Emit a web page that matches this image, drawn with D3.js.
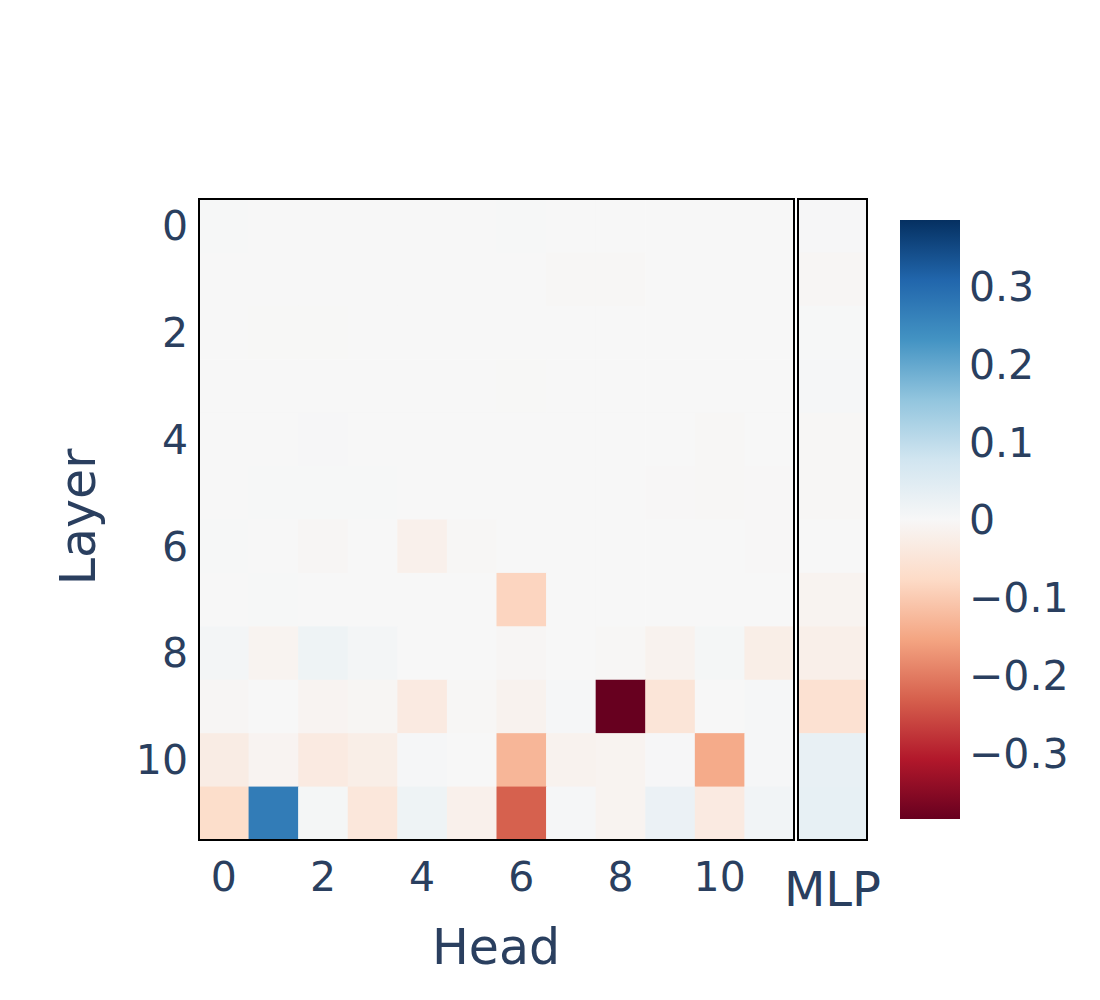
<!DOCTYPE html>
<html>
<head>
<meta charset="utf-8">
<script src="https://cdn.jsdelivr.net/npm/d3@7"></script>
<style>
  html, body { margin: 0; padding: 0; background: #fff; }
  svg text { font-family: "DejaVu Sans", Verdana, sans-serif; fill: #2a3f5f; }
</style>
</head>
<body>
<svg id="chart" width="1100" height="1000"></svg>
<script>
// ---- data ----
const layers = d3.range(12);
const heads = d3.range(12);
const headTicks = [0, 2, 4, 6, 8, 10];
const layerTicks = [0, 2, 4, 6, 8, 10];
const colorTicks = [0.3, 0.2, 0.1, 0, -0.1, -0.2, -0.3];
const zMin = -0.385, zMax = 0.385;

// attention head values: rows = layers 0..11, cols = heads 0..11
const headValues = [
  [0.002, 0.001, 0.000, 0.000, 0.000, 0.000, 0.002, 0.001, 0.000, 0.001, 0.000, 0.000],
  [0.000, 0.000, 0.000, 0.000, 0.000, 0.000, 0.000, -0.004, -0.004, 0.000, 0.000, 0.000],
  [0.000, -0.001, -0.001, 0.000, 0.000, 0.000, 0.000, 0.000, 0.000, 0.000, 0.000, 0.000],
  [0.000, 0.000, 0.000, 0.000, 0.000, 0.000, -0.001, 0.000, 0.000, 0.000, 0.000, 0.000],
  [0.000, 0.000, 0.003, 0.000, 0.000, 0.000, 0.001, 0.000, 0.000, 0.000, -0.003, 0.000],
  [0.001, 0.002, 0.002, 0.002, 0.000, 0.000, 0.001, 0.000, 0.000, -0.002, -0.003, -0.002],
  [0.002, 0.001, -0.005, 0.000, -0.020, -0.003, 0.000, 0.000, 0.000, 0.000, 0.000, -0.002],
  [0.001, 0.002, 0.000, 0.000, 0.000, 0.000, -0.085, 0.000, 0.000, 0.000, 0.000, 0.000],
  [0.008, -0.012, 0.018, 0.008, 0.001, 0.001, -0.005, 0.000, -0.004, -0.015, 0.006, -0.025],
  [-0.005, 0.001, -0.010, -0.006, -0.035, -0.003, -0.015, 0.005, -0.385, -0.050, 0.000, 0.004],
  [-0.030, -0.010, -0.035, -0.025, 0.004, 0.001, -0.130, -0.015, -0.012, 0.003, -0.145, 0.004],
  [-0.070, 0.270, 0.006, -0.045, 0.018, -0.020, -0.230, 0.005, -0.012, 0.025, -0.035, 0.012]
];
// MLP values per layer
const mlpValues = [0.003, -0.005, 0.002, 0.005, -0.004, -0.004, 0.001, -0.012, -0.022, -0.060, 0.030, 0.032];

// ---- layout ----
const svg = d3.select("#chart");
const main = { x0: 199, x1: 794, y0: 199, y1: 840 };
const mlp = { x0: 798, x1: 867 };
const cbar = { x0: 900, x1: 960, y0: 220, y1: 819 };

const rdbu = ["#67001f","#b2182b","#d6604d","#f4a582","#fddbc7","#f7f7f7","#d1e5f0","#92c5de","#4393c3","#2166ac","#053061"];
const color = d3.scaleLinear()
  .domain(d3.range(11).map(i => zMin + i * (zMax - zMin) / 10))
  .range(rdbu)
  .interpolate(d3.interpolateRgb)
  .clamp(true);

const x = d3.scaleBand().domain(heads).range([main.x0, main.x1]).padding(0);
const y = d3.scaleBand().domain(layers).range([main.y0, main.y1]).padding(0);

// cells
const cells = [];
headValues.forEach((row, li) => row.forEach((v, hi) => cells.push({ l: li, h: hi, v })));
svg.append("g").selectAll("rect").data(cells).join("rect")
  .attr("x", d => x(d.h)).attr("y", d => y(d.l))
  .attr("width", x.bandwidth() + 0.5).attr("height", y.bandwidth() + 0.5)
  .attr("fill", d => color(d.v));

svg.append("g").selectAll("rect").data(mlpValues).join("rect")
  .attr("x", mlp.x0).attr("y", (d, i) => y(i))
  .attr("width", mlp.x1 - mlp.x0).attr("height", y.bandwidth() + 0.5)
  .attr("fill", d => color(d));

// borders
svg.append("rect").attr("x", main.x0).attr("y", main.y0)
  .attr("width", main.x1 - main.x0).attr("height", main.y1 - main.y0)
  .attr("fill", "none").attr("stroke", "#000").attr("stroke-width", 2);
svg.append("rect").attr("x", mlp.x0).attr("y", main.y0)
  .attr("width", mlp.x1 - mlp.x0).attr("height", main.y1 - main.y0)
  .attr("fill", "none").attr("stroke", "#000").attr("stroke-width", 2);

// x axis ticks
const xAxis = d3.axisBottom(x).tickValues(headTicks).tickSize(0).tickPadding(0);
const gx = svg.append("g").attr("transform", `translate(0, 877)`).call(xAxis);
gx.select(".domain").remove();
gx.selectAll("text").attr("font-size", 41).attr("dy", "0.35em").attr("y", 0)
  .style("font-family", "DejaVu Sans").attr("fill", "#2a3f5f");

// y axis ticks
const yAxis = d3.axisLeft(y).tickValues(layerTicks).tickSize(0).tickPadding(0);
const gy = svg.append("g").attr("transform", `translate(188, 0)`).call(yAxis);
gy.select(".domain").remove();
gy.selectAll("text").attr("font-size", 41).attr("dy", "0.35em").attr("x", 0)
  .style("font-family", "DejaVu Sans").attr("fill", "#2a3f5f");

// MLP label
svg.append("text").attr("x", (mlp.x0 + mlp.x1) / 2).attr("y", 889)
  .attr("text-anchor", "middle").attr("dy", "0.35em").attr("font-size", 48).text("MLP");

// axis titles
svg.append("text").attr("x", 496).attr("y", 947).attr("text-anchor", "middle")
  .attr("dy", "0.35em").attr("font-size", 49).text("Head");
svg.append("text").attr("transform", "translate(78,517) rotate(-90)")
  .attr("text-anchor", "middle").attr("dy", "0.35em").attr("font-size", 49).text("Layer");

// colorbar
const defs = svg.append("defs");
const grad = defs.append("linearGradient").attr("id", "cbgrad")
  .attr("x1", 0).attr("y1", 1).attr("x2", 0).attr("y2", 0);
rdbu.forEach((c, i) => grad.append("stop").attr("offset", i / 10).attr("stop-color", c));
svg.append("rect").attr("x", cbar.x0).attr("y", cbar.y0)
  .attr("width", cbar.x1 - cbar.x0).attr("height", cbar.y1 - cbar.y0)
  .attr("fill", "url(#cbgrad)");

const cy = d3.scaleLinear().domain([zMin, zMax]).range([cbar.y1, cbar.y0]);
const cAxis = d3.axisRight(cy).tickValues(colorTicks).tickSize(0).tickPadding(0)
  .tickFormat(d => d === 0 ? "0" : (d < 0 ? "\u2212" + d3.format(".1f")(-d) : d3.format(".1f")(d)));
const gc = svg.append("g").attr("transform", `translate(969, 0)`).call(cAxis);
gc.select(".domain").remove();
gc.selectAll("text").attr("font-size", 41).attr("dy", "0.35em").attr("x", 0)
  .style("font-family", "DejaVu Sans").attr("fill", "#2a3f5f");
</script>
</body>
</html>
